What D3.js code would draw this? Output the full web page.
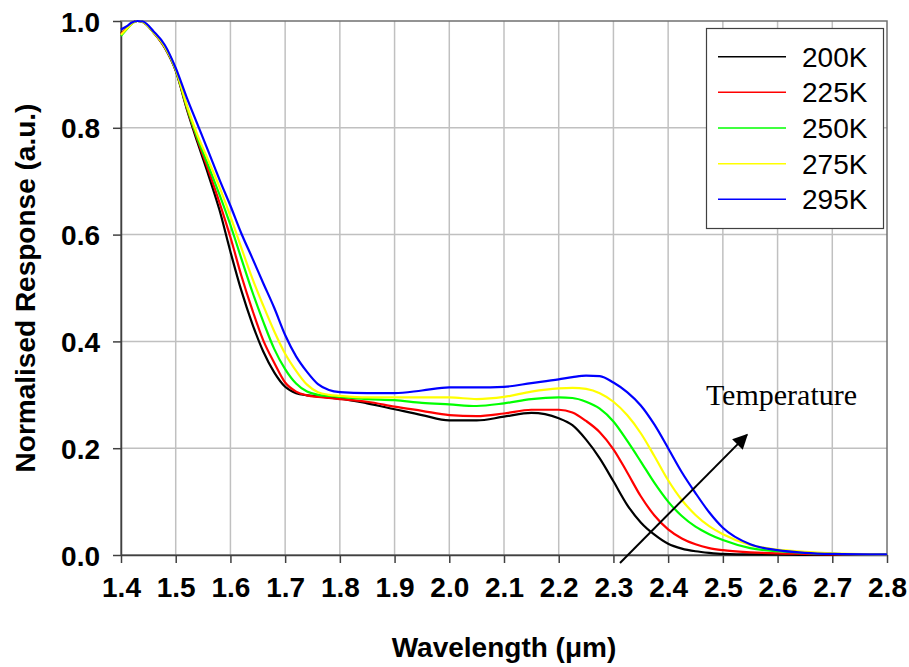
<!DOCTYPE html>
<html>
<head>
<meta charset="utf-8">
<script src="https://cdn.jsdelivr.net/npm/d3@7"></script>
<style>
  html, body { margin: 0; padding: 0; background: #fff; }
  svg { display: block; }
</style>
</head>
<body>
<svg id="chart" width="909" height="667"></svg>
<script>
// Wavelength samples (µm) shared by every temperature curve
const wavelengths = [1.40, 1.41, 1.42, 1.43, 1.44, 1.46, 1.48, 1.50, 1.52, 1.54,
  1.56, 1.58, 1.60, 1.62, 1.64, 1.66, 1.68, 1.70, 1.72, 1.74,
  1.76, 1.78, 1.80, 1.85, 1.90, 1.95, 2.00, 2.05, 2.10, 2.15,
  2.20, 2.225, 2.25, 2.275, 2.30, 2.325, 2.35, 2.375, 2.40, 2.425,
  2.45, 2.475, 2.50, 2.55, 2.60, 2.65, 2.70, 2.80];

// Normalised response for each detector temperature
const resp200K = [0.976, 0.986, 0.996, 1.000, 0.998, 0.978, 0.950, 0.907, 0.836, 0.772,
  0.711, 0.646, 0.568, 0.495, 0.433, 0.381, 0.342, 0.315, 0.303, 0.299,
  0.297, 0.295, 0.293, 0.284, 0.273, 0.262, 0.252, 0.252, 0.259, 0.266,
  0.256, 0.243, 0.216, 0.181, 0.138, 0.094, 0.061, 0.038, 0.021, 0.012,
  0.007, 0.004, 0.002, 0.001, 0.001, 0.000, 0.000, 0.000];
const resp225K = [0.976, 0.986, 0.996, 1.000, 0.998, 0.978, 0.951, 0.908, 0.838, 0.777,
  0.720, 0.660, 0.595, 0.523, 0.459, 0.402, 0.360, 0.323, 0.306, 0.299,
  0.296, 0.294, 0.292, 0.287, 0.278, 0.270, 0.262, 0.260, 0.265, 0.272,
  0.272, 0.267, 0.251, 0.230, 0.198, 0.155, 0.110, 0.074, 0.048, 0.031,
  0.020, 0.013, 0.009, 0.005, 0.003, 0.002, 0.001, 0.000];
const resp250K = [0.972, 0.984, 0.995, 1.000, 0.998, 0.978, 0.952, 0.909, 0.840, 0.780,
  0.728, 0.675, 0.618, 0.555, 0.493, 0.437, 0.386, 0.348, 0.321, 0.306,
  0.300, 0.298, 0.296, 0.292, 0.290, 0.285, 0.282, 0.279, 0.284, 0.292,
  0.295, 0.294, 0.287, 0.274, 0.250, 0.214, 0.175, 0.135, 0.100, 0.073,
  0.053, 0.039, 0.028, 0.013, 0.007, 0.004, 0.002, 0.001];
const resp275K = [0.974, 0.985, 0.995, 1.000, 0.998, 0.978, 0.952, 0.910, 0.843, 0.786,
  0.738, 0.689, 0.634, 0.575, 0.518, 0.467, 0.419, 0.377, 0.345, 0.319,
  0.305, 0.300, 0.298, 0.295, 0.295, 0.295, 0.295, 0.292, 0.296, 0.306,
  0.312, 0.313, 0.311, 0.303, 0.287, 0.262, 0.228, 0.185, 0.140, 0.103,
  0.075, 0.054, 0.039, 0.019, 0.010, 0.006, 0.003, 0.001];
const resp295K = [0.984, 0.990, 0.997, 1.000, 0.999, 0.980, 0.955, 0.912, 0.857, 0.806,
  0.755, 0.703, 0.654, 0.602, 0.556, 0.509, 0.463, 0.412, 0.372, 0.343,
  0.320, 0.309, 0.305, 0.303, 0.303, 0.308, 0.314, 0.314, 0.315, 0.322,
  0.329, 0.333, 0.336, 0.335, 0.323, 0.305, 0.280, 0.244, 0.200, 0.155,
  0.116, 0.080, 0.051, 0.020, 0.009, 0.004, 0.002, 0.001];

const seriesNames = ["200K", "225K", "250K", "275K", "295K"];
const seriesColors = ["#000000", "#ff0000", "#00ff00", "#ffff00", "#0000ff"];
const seriesValues = [resp200K, resp225K, resp250K, resp275K, resp295K];

const xTicks = [1.4, 1.5, 1.6, 1.7, 1.8, 1.9, 2.0, 2.1, 2.2, 2.3, 2.4, 2.5, 2.6, 2.7, 2.8];
const yTicks = [0.0, 0.2, 0.4, 0.6, 0.8, 1.0];

// Annotation arrow (data coordinates) and its label
const arrowFrom = [2.312, -0.015];
const arrowTo = [2.544, 0.225];
const arrowLabel = { text: "Temperature", x: 2.469, y: 0.281 };

const svg = d3.select("#chart");
const margin = { left: 121, right: 22, top: 21, bottom: 112 };
const W = 909, H = 667;

const x = d3.scaleLinear().domain([1.4, 2.8]).range([margin.left, W - margin.right]);
const y = d3.scaleLinear().domain([0, 1]).range([H - margin.bottom, margin.top]);

// Grid
const grid = svg.append("g").attr("stroke", "#c0c0c0").attr("stroke-width", 1.5);
grid.selectAll("line.vx").data(xTicks.slice(1, -1)).join("line")
  .attr("x1", d => x(d)).attr("x2", d => x(d))
  .attr("y1", y(0)).attr("y2", y(1));
grid.selectAll("line.hy").data(yTicks.slice(1, -1)).join("line")
  .attr("x1", x(1.4)).attr("x2", x(2.8))
  .attr("y1", d => y(d)).attr("y2", d => y(d));

// Frame (top/right)
svg.append("rect")
  .attr("x", x(1.4)).attr("y", y(1))
  .attr("width", x(2.8) - x(1.4)).attr("height", y(0) - y(1))
  .attr("fill", "none").attr("stroke", "#707070").attr("stroke-width", 1.5);

// Axes
const fmt = d3.format(".1f");
const xAxis = svg.append("g").attr("transform", `translate(0,${y(0)})`)
  .call(d3.axisBottom(x).tickValues(xTicks).tickFormat(fmt).tickSize(8).tickSizeOuter(0));
const yAxis = svg.append("g").attr("transform", `translate(${x(1.4)},0)`)
  .call(d3.axisLeft(y).tickValues(yTicks).tickFormat(fmt).tickSize(8).tickSizeOuter(0));
[xAxis, yAxis].forEach(a => {
  a.select(".domain").attr("stroke", "#404040").attr("stroke-width", 1.5);
  a.selectAll(".tick line").attr("stroke", "#404040").attr("stroke-width", 1.5);
  a.selectAll(".tick text")
    .attr("font-family", "Liberation Sans, Arial, sans-serif")
    .attr("font-weight", "bold").attr("font-size", 28).attr("fill", "#000");
});
xAxis.selectAll(".tick text").attr("y", 22).attr("dy", "0.71em");
yAxis.selectAll(".tick text").attr("x", -21).attr("dy", "0.36em");

// Axis titles
svg.append("text")
  .attr("x", x(2.1)).attr("y", 657)
  .attr("text-anchor", "middle")
  .attr("font-family", "Liberation Sans, Arial, sans-serif")
  .attr("font-weight", "bold").attr("font-size", 28)
  .text("Wavelength (\u03BCm)");
svg.append("text")
  .attr("transform", `translate(35,${(y(0) + y(1)) / 2}) rotate(-90)`)
  .attr("text-anchor", "middle")
  .attr("font-family", "Liberation Sans, Arial, sans-serif")
  .attr("font-weight", "bold").attr("font-size", 28)
  .text("Normalised Response (a.u.)");

// Curves
const line = d3.line()
  .x((d, i) => x(wavelengths[i]))
  .y(d => y(d))
  .curve(d3.curveMonotoneX);
svg.append("g").selectAll("path").data(seriesValues).join("path")
  .attr("d", d => line(d))
  .attr("fill", "none")
  .attr("stroke", (d, i) => seriesColors[i])
  .attr("stroke-width", 2.2)
  .attr("stroke-linejoin", "round");

// Temperature arrow
const defs = svg.append("defs");
defs.append("marker")
  .attr("id", "arrowhead")
  .attr("viewBox", "0 0 10 10")
  .attr("refX", 9).attr("refY", 5)
  .attr("markerWidth", 8.5).attr("markerHeight", 7.5)
  .attr("markerUnits", "strokeWidth")
  .attr("orient", "auto")
  .append("path").attr("d", "M0,0 L10,5 L0,10 Z").attr("fill", "#000");
svg.append("line")
  .attr("x1", x(arrowFrom[0])).attr("y1", y(arrowFrom[1]))
  .attr("x2", x(arrowTo[0])).attr("y2", y(arrowTo[1]))
  .attr("stroke", "#000").attr("stroke-width", 2)
  .attr("marker-end", "url(#arrowhead)");
svg.append("text")
  .attr("x", x(arrowLabel.x)).attr("y", y(arrowLabel.y))
  .attr("font-family", "Liberation Serif, Times New Roman, serif")
  .attr("font-size", 30)
  .text(arrowLabel.text);

// Legend
const legend = svg.append("g");
legend.append("rect")
  .attr("x", 706.5).attr("y", 28.5).attr("width", 177).attr("height", 200)
  .attr("fill", "#fff").attr("stroke", "#404040").attr("stroke-width", 1.2);
const rows = legend.selectAll("g.row").data(seriesNames).join("g")
  .attr("transform", (d, i) => `translate(0,${56.7 + i * 35.65})`);
rows.append("line")
  .attr("x1", 718).attr("x2", 786).attr("y1", 0).attr("y2", 0)
  .attr("stroke", (d, i) => seriesColors[i]).attr("stroke-width", 1.5);
rows.append("text")
  .attr("x", 802).attr("y", 10)
  .attr("font-family", "Liberation Sans, Arial, sans-serif")
  .attr("font-size", 28)
  .text(d => d);
</script>
</body>
</html>
